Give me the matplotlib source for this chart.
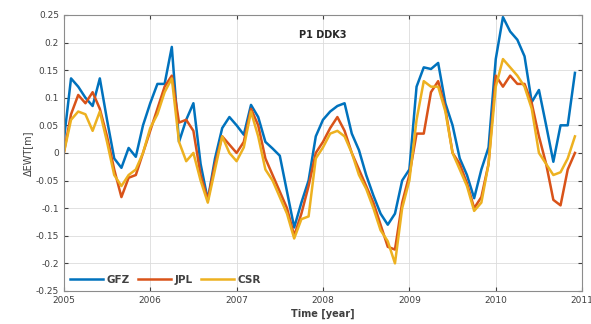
import numpy as np
import matplotlib
matplotlib.use("Agg")
import matplotlib.pyplot as plt

# Monthly equivalent water thickness anomalies, Jan 2005 .. Dec 2010
months = np.arange(72)
gfz = [0.023, 0.135, 0.12, 0.10, 0.085, 0.135, 0.06, -0.01, -0.027, 0.009, -0.007, 0.05,
       0.09, 0.125, 0.125, 0.192, 0.02, 0.06, 0.09, -0.02, -0.085, -0.01, 0.045, 0.065,
       0.05, 0.033, 0.087, 0.065, 0.02, 0.008, -0.005, -0.07, -0.135, -0.09, -0.05, 0.03,
       0.06, 0.075, 0.085, 0.09, 0.035, 0.005, -0.04, -0.077, -0.11, -0.13, -0.11, -0.05,
       -0.03, 0.12, 0.155, 0.152, 0.163, 0.09, 0.05, -0.01, -0.04, -0.082, -0.03, 0.01,
       0.17, 0.246, 0.22, 0.205, 0.175, 0.092, 0.114, 0.05, -0.016, 0.05, 0.05, 0.145]
jpl = [0.0, 0.07, 0.105, 0.09, 0.11, 0.08, 0.03, -0.03, -0.08, -0.045, -0.04, 0.0,
       0.04, 0.08, 0.12, 0.14, 0.055, 0.06, 0.04, -0.04, -0.085, -0.02, 0.03, 0.015,
       0.0, 0.02, 0.08, 0.05, -0.01, -0.04, -0.07, -0.10, -0.15, -0.11, -0.06, 0.0,
       0.02, 0.045, 0.065, 0.04, 0.0, -0.03, -0.06, -0.09, -0.13, -0.17, -0.175, -0.09,
       -0.04, 0.035, 0.035, 0.11, 0.13, 0.08, 0.0, -0.02, -0.055, -0.10, -0.08, -0.02,
       0.14, 0.12, 0.14, 0.125, 0.125, 0.09, 0.03, -0.02, -0.085, -0.095, -0.03, 0.0]
csr = [0.0, 0.06, 0.075, 0.07, 0.04, 0.075, 0.02, -0.04, -0.06, -0.04, -0.03, 0.0,
       0.045, 0.07, 0.11, 0.135, 0.02, -0.015, 0.0, -0.05, -0.09, -0.03, 0.03, 0.0,
       -0.015, 0.01, 0.075, 0.03, -0.03, -0.05, -0.08, -0.11, -0.155, -0.12, -0.115, -0.01,
       0.01, 0.035, 0.04, 0.03, 0.0, -0.04, -0.065, -0.10, -0.14, -0.16, -0.20, -0.10,
       -0.05, 0.06, 0.13, 0.12, 0.12, 0.075, 0.0, -0.03, -0.06, -0.105, -0.09, -0.02,
       0.12, 0.17, 0.155, 0.14, 0.12, 0.08, 0.0, -0.02, -0.04, -0.035, -0.01, 0.03]
series_names = ["GFZ", "JPL", "CSR"]
series_colors = ["#0072BD", "#D95319", "#EDB120"]
year_ticks = [2005, 2006, 2007, 2008, 2009, 2010, 2011]
ewt_ticks = [-0.25, -0.2, -0.15, -0.1, -0.05, 0, 0.05, 0.1, 0.15, 0.2, 0.25]

t = 2005 + months / 12.0

fig = plt.figure(figsize=(5.91, 3.24), dpi=100)
ax = fig.add_axes([0.108, 0.102, 0.877, 0.852])

for vals, name, col in zip([gfz, jpl, csr], series_names, series_colors):
    ax.plot(t, vals, color=col, lw=1.8, label=name)

ax.set_xlim(2005, 2011)
ax.set_ylim(-0.25, 0.25)
ax.set_xticks(year_ticks)
ax.set_xticklabels([str(y) for y in year_ticks])
ax.set_yticks(ewt_ticks)
ax.set_yticklabels(["%g" % v for v in ewt_ticks])
ax.grid(True, color="#dcdcdc", lw=0.6)
ax.set_axisbelow(True)
ax.tick_params(direction="in", length=3, labelsize=6.5, colors="#404040",
               top=True, right=True, labelcolor="#404040")
for sp in ax.spines.values():
    sp.set_color("#8c8c8c")
    sp.set_linewidth(0.8)

ax.text(0.5, 0.945, "P1 DDK3", transform=ax.transAxes, ha="center", va="top",
        fontsize=7, fontweight="bold", color="#262626")
ax.set_xlabel("Time [year]", fontsize=7, fontweight="bold", color="#404040", labelpad=3)
ax.set_ylabel("ΔEWT[m]", fontsize=7, color="#404040", labelpad=2)

leg = ax.legend(loc="lower left", ncol=3, frameon=False, fontsize=7.5,
                handlelength=3.2, columnspacing=0.8, handletextpad=0.3,
                borderaxespad=0.2)
for txt in leg.get_texts():
    txt.set_color("#404040")
    txt.set_fontweight("bold")

fig.savefig("out.png", dpi=100)
